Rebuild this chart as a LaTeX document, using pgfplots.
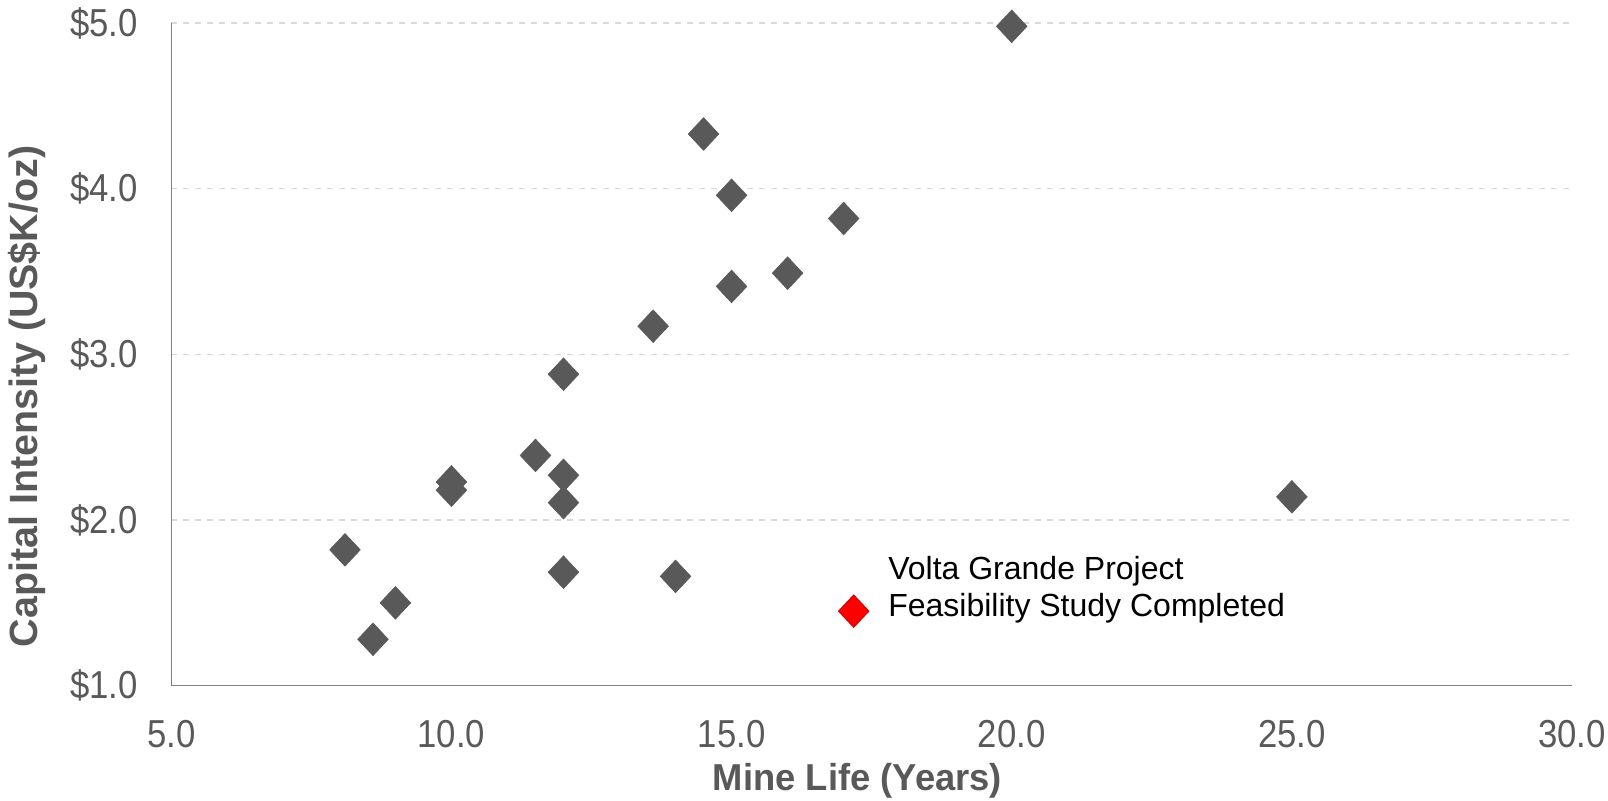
\documentclass[border=0pt]{standalone}
\usepackage{pgfplots}
\pgfplotsset{compat=1.18}
\usepackage{fontspec}
\setmainfont{Liberation Sans}
\newfontfamily\tickfont[FakeStretch=0.89]{Liberation Sans}
\newfontfamily\titlefont[FakeStretch=0.97]{Liberation Sans}
\definecolor{dgray}{HTML}{595959}
\definecolor{agray}{HTML}{808080}
\definecolor{ggray}{HTML}{D9D9D9}
\begin{document}
\begin{tikzpicture}
\path[use as bounding box] (-85.65pt,-57.15pt) rectangle (718.35pt,342.85pt);
\begin{axis}[
  at={(0,0)}, anchor=south west,
  scale only axis,
  width=700.35pt, height=331.35pt,
  xmin=5, xmax=30, ymin=1, ymax=5,
  axis x line*=bottom, axis y line*=left,
  axis line style={agray, line width=0.6pt},
  major tick length=0pt,
  xtick={5,10,15,20,25,30},
  xticklabels={5.0,10.0,15.0,20.0,25.0,30.0},
  ytick={1,2,3,4,5},
  yticklabels={\$1.0,\$2.0,\$3.0,\$4.0,\$5.0},
  xticklabel style={font=\tickfont\fontsize{19.5}{22}\selectfont, text=dgray, anchor=north, inner sep=0pt, yshift=-17pt},
  yticklabel style={font=\tickfont\fontsize{19.5}{22}\selectfont, text=dgray, anchor=east, inner sep=0pt, xshift=-16.5pt},
  ymajorgrids,
  grid style={ggray, dashed, line width=0.6pt},
  xlabel={Mine Life (Years)},
  ylabel={Capital Intensity (US\$K/oz)},
  xlabel style={font=\titlefont\bfseries\fontsize{18.75}{22}\selectfont, text=dgray, at={(axis description cs:0.4899,-0.1574)}, anchor=base, inner sep=0pt},
  ylabel style={font=\bfseries\fontsize{19.7}{22}\selectfont, text=dgray, at={(axis description cs:-0.0952,0.4364)}, anchor=base, inner sep=0pt},
  clip=false,
]
\addplot[only marks, mark=diamond*, mark size=8.17pt, mark options={xscale=1.25, fill=dgray, draw=dgray, line width=0.3pt}]
coordinates {
(20,4.98) (14.5,4.33) (15,3.96) (17,3.82) (16,3.49) (15,3.41) (13.6,3.17)
(12,2.88) (11.5,2.39) (12,2.27) (12,2.105) (10,2.23) (10,2.18)
(8.1,1.82) (9,1.50) (8.6,1.28) (12,1.685) (14,1.66) (25,2.14)
};
\addplot[only marks, mark=diamond*, mark size=8pt, mark options={xscale=1.25, fill=red, draw=red!85!black, line width=0.6pt}]
coordinates {(17.18,1.45)};
\node[anchor=base west, inner sep=0pt, font=\fontsize{16}{18}\selectfont, text=black] at (axis cs:17.79,1.639) {Volta Grande Project};
\node[anchor=base west, inner sep=0pt, font=\fontsize{16}{18}\selectfont, text=black] at (axis cs:17.79,1.417) {Feasibility Study Completed};
\end{axis}
\end{tikzpicture}
\end{document}
